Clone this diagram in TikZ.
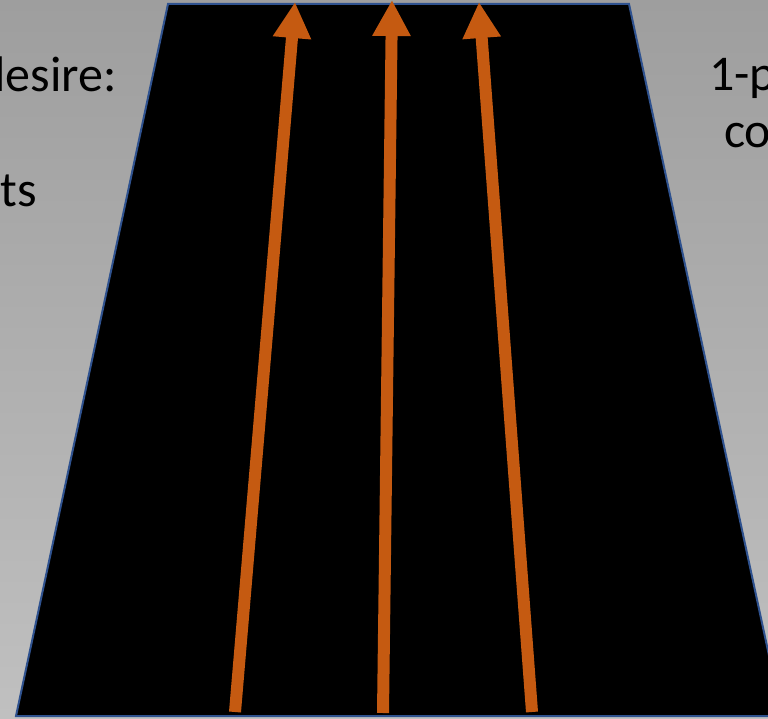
\documentclass[tikz,border=0pt]{standalone}
\usepackage{fontspec}
\setmainfont{Carlito}
\usetikzlibrary{arrows.meta}
\definecolor{bgtop}{RGB}{158,158,158}
\definecolor{bgbot}{RGB}{192,192,192}
\definecolor{rim}{RGB}{47,82,143}
\definecolor{arrorange}{RGB}{197,90,17}
\tikzset{
  lbl/.style={font=\fontsize{50}{60}\selectfont, text=black, inner sep=0pt},
  flow/.style={draw=arrorange, line width=12pt,
    -{Triangle[length=36pt,width=36pt,fill=arrorange]}},
  road/.style={fill=black, draw=rim, line width=2pt}
}
\begin{document}
\begin{tikzpicture}[x=1pt,y=-1pt]
\useasboundingbox (0,0) rectangle (768,719);
\clip (0,0) rectangle (768,719);
\shade[top color=bgtop, bottom color=bgbot] (0,0) rectangle (768,719);
% trapezoid
\coordinate (tl) at (168,4);
\coordinate (tr) at (629,4);
\coordinate (br) at (782,716);
\coordinate (bl) at (16,716);
\draw[road] (tl) -- (tr) -- (br) -- (bl) -- cycle;
% arrows
\coordinate (t1) at (235,712);
\coordinate (h1) at (295,2);
\coordinate (t2) at (383,713);
\coordinate (h2) at (392,0);
\coordinate (t3) at (532,712);
\coordinate (h3) at (479,2);
\draw[flow] (t1) -- (h1);
\draw[flow] (t2) -- (h2);
\draw[flow] (t3) -- (h3);
% texts
\node[lbl, anchor=base east] (d) at (117,92) {desire:};
\node[lbl, anchor=base east] (ts) at (37,207) {ts};
\node[lbl, anchor=base west] (p) at (709,91) {1-p};
\node[lbl, anchor=base west] (co) at (724,148) {co};
\end{tikzpicture}
\end{document}
